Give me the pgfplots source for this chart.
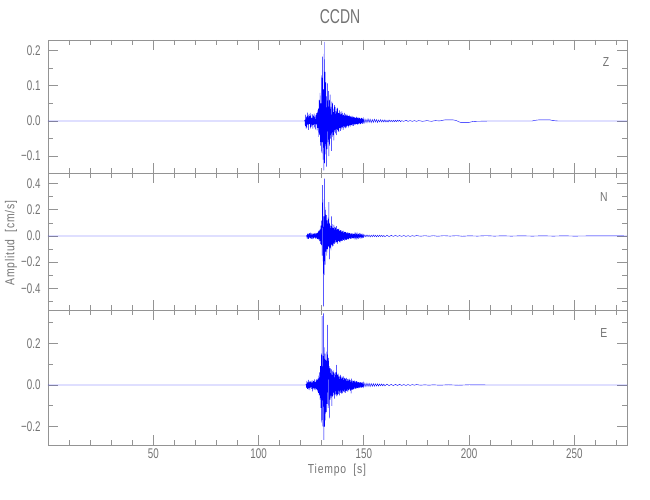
\documentclass[border=0pt]{standalone}
\usepackage{fontspec}
\setmainfont{Liberation Sans}[FakeStretch=0.7]
\newfontfamily\lbl{Liberation Sans}[FakeStretch=0.8,LetterSpace=6]
\usepackage{pgfplots}
\pgfplotsset{compat=1.18}
\definecolor{axgray}{gray}{0.58}
\definecolor{txgray}{gray}{0.45}
\pgfplotsset{
 seis/.style={scale only axis, width=579pt, xmin=0, xmax=275,
   anchor=south west,
   xtick={50,100,150,200,250}, minor xtick={10,20,...,270},
   major tick length=10pt, minor tick length=5pt,
   axis line style={axgray, line width=0.8pt},
   every tick/.style={axgray, line width=0.8pt},
   tick label style={txgray, font=\fontsize{14}{16}\selectfont},
   yticklabel style={xshift=-4pt},
   /pgf/number format/assume math mode=true,
 },
 trace/.style={blue, line width=0.4pt, mark=none},
}
\begin{document}
\begin{tikzpicture}
\path[use as bounding box] (0,0) rectangle (650pt,500pt);
% ---------------- Z ----------------
\begin{axis}[seis, at={(48pt,326.7pt)}, height=133.3pt,
  ymin=-0.149, ymax=0.2306, ytick={-0.1,0,0.1,0.2},
  yticklabels={−0.1,0.0,0.1,0.2}, minor ytick={-0.05,0.05,0.15},
  xticklabels={}]
\addplot[trace] coordinates {
(0,0) (121.8,0)
(122.0,0.002) (122.2,-0.015) (122.4,0.018) (122.6,-0.022) (122.8,0.012) (123.0,-0.019) (123.2,0.024) (123.4,-0.010) (123.6,0.016) (123.8,-0.025)
(124.0,0.020) (124.2,-0.008) (124.4,0.014) (124.6,-0.021) (124.8,0.023) (125.0,-0.017) (125.2,0.009) (125.4,-0.013) (125.6,0.019) (125.8,-0.022)
(126.0,0.015) (126.2,-0.011) (126.4,0.021) (126.6,-0.018) (126.8,0.012) (127.0,-0.024) (127.2,0.017) (127.4,-0.009) (127.6,0.022) (127.8,-0.027)
(128.0,0.030) (128.2,-0.020) (128.4,0.035) (128.6,-0.045) (128.8,0.060) (129.0,-0.040) (129.2,0.080) (129.4,-0.070) (129.6,0.050) (129.8,-0.090)
(130.0,0.130) (130.2,-0.060) (130.4,0.183) (130.6,-0.110) (130.8,0.090) (131.0,-0.141) (131.2,0.225) (131.4,-0.120) (131.6,0.140) (131.8,-0.095)
(132.0,0.110) (132.2,-0.130) (132.4,0.070) (132.6,-0.080) (132.8,0.107) (133.0,-0.060) (133.2,0.085) (133.4,-0.100) (133.6,0.060) (133.8,-0.070)
(134.0,0.075) (134.2,-0.050) (134.4,0.040) (134.6,-0.085) (134.8,0.055) (135.0,-0.045) (135.2,0.050) (135.4,-0.040) (135.6,0.035) (135.8,-0.055)
(136.0,0.045) (136.2,-0.030) (136.4,0.040) (136.6,-0.035) (136.8,0.028) (137.0,-0.040) (137.2,0.035) (137.4,-0.025) (137.6,0.038) (137.8,-0.030)
(138.0,0.022) (138.2,-0.032) (138.4,0.030) (138.6,-0.020) (138.8,0.026) (139.0,-0.028) (139.2,0.020) (139.4,-0.024) (139.6,0.027) (139.8,-0.018)
(140.0,0.022) (140.2,-0.025) (140.4,0.017) (140.6,-0.020) (140.8,0.023) (141.0,-0.016) (141.2,0.019) (141.4,-0.021) (141.6,0.015) (141.8,-0.018)
(142.0,0.020) (142.2,-0.013) (142.4,0.016) (142.6,-0.019) (142.8,0.014) (143.0,-0.015) (143.2,0.017) (143.4,-0.012) (143.6,0.013) (143.8,-0.016)
(144.0,0.012) (144.2,-0.011) (144.4,0.015) (144.6,-0.013) (144.8,0.010) (145.0,-0.014) (145.2,0.012) (145.4,-0.009) (145.6,0.011) (145.8,-0.012)
(146.0,0.009) (146.2,-0.010) (146.4,0.012) (146.6,-0.008) (146.8,0.010) (147.0,-0.011) (147.2,0.008) (147.4,-0.009) (147.6,0.010) (147.8,-0.007)
(148.0,0.009) (148.2,-0.010) (148.4,0.007) (148.6,-0.008) (148.8,0.009) (149.0,-0.006) (149.2,0.008) (149.4,-0.008) (149.6,0.006) (149.8,-0.007)
(150.0,0.007) (150.5,-0.006) (151,0.005) (151.5,-0.005) (152,0.006) (152.5,-0.004) (153,0.005) (153.5,-0.005) (154,0.004) (154.5,-0.004)
(155,0.005) (155.5,-0.003) (156,0.004) (156.5,-0.004) (157,0.003) (157.5,-0.003) (158,0.004) (158.5,-0.003) (159,0.003) (159.5,-0.003)
(160,0.003) (160.5,-0.003) (161,0.002) (161.5,-0.003) (162,0.003) (162.5,-0.002) (163,0.002) (163.5,-0.002) (164,0.002) (164.5,-0.002)
(165,0.002) (165.5,-0.002) (166,0.002) (166.5,-0.001) (167,0.002) (167.5,-0.002) (168,0.001) (169,-0.001) (170,0.002) (171,-0.001)
(172,0.001) (173,-0.001) (174,0.001) (175,-0.001) (176,0.001) (178,-0.001) (180,0.001) (182,-0.001) (184,0.001) (186,0)
(187.5,0.002) (188.5,0.003) (192.5,0.003) (194,0.001) (195,-0.002) (196,-0.004) (200,-0.004) (201.5,-0.002) (203,-0.001) (210,0)
(230,0) (231.5,0.002) (233,0.003) (238.5,0.003) (240,0.001) (242,0) (275,0)
};
\node[txgray, font=\lbl\fontsize{13}{15}\selectfont] at (rel axis cs:0.964,0.837) {Z};
\end{axis}
% ---------------- N ----------------
\begin{axis}[seis, at={(48pt,190pt)}, height=136.7pt,
  ymin=-0.567, ymax=0.480, ytick={-0.4,-0.2,0,0.2,0.4},
  yticklabels={−0.4,−0.2,0.0,0.2,0.4}, minor ytick={-0.5,-0.3,-0.1,0.1,0.3},
  xticklabels={}]
\addplot[trace] coordinates {
(0,0) (122.6,0)
(122.8,0.003) (123.0,-0.012) (123.2,0.018) (123.4,-0.020) (123.6,0.015) (123.8,-0.022)
(124.0,0.019) (124.2,-0.014) (124.4,0.021) (124.6,-0.017) (124.8,0.012) (125.0,-0.023) (125.2,0.020) (125.4,-0.011) (125.6,0.018) (125.8,-0.021)
(126.0,0.016) (126.2,-0.019) (126.4,0.022) (126.6,-0.013) (126.8,0.017) (127.0,-0.020) (127.2,0.024) (127.4,-0.016) (127.6,0.019) (127.8,-0.025)
(128.0,0.028) (128.2,-0.022) (128.4,0.035) (128.6,-0.030) (128.8,0.045) (129.0,-0.040) (129.2,0.055) (129.4,-0.060) (129.6,0.080) (129.8,-0.070)
(130.0,0.120) (130.2,-0.150) (130.4,0.390) (130.6,0.200) (130.8,-0.540) (131.0,0.150) (131.2,-0.300) (131.4,0.440) (131.6,-0.220) (131.8,0.200)
(132.0,-0.120) (132.2,0.160) (132.4,-0.150) (132.6,0.120) (132.8,-0.100) (133.0,0.140) (133.2,-0.080) (133.4,0.260) (133.6,-0.180) (133.8,0.100)
(134.0,-0.090) (134.2,0.080) (134.4,-0.110) (134.6,0.150) (134.8,-0.070) (135.0,0.090) (135.2,-0.080) (135.4,0.060) (135.6,-0.075) (135.8,0.085)
(136.0,-0.060) (136.2,0.070) (136.4,-0.050) (136.6,0.065) (136.8,-0.055) (137.0,0.075) (137.2,-0.045) (137.4,0.055) (137.6,-0.060) (137.8,0.050)
(138.0,-0.040) (138.2,0.058) (138.4,-0.048) (138.6,0.040) (138.8,-0.050) (139.0,0.045) (139.2,-0.035) (139.4,0.042) (139.6,-0.040) (139.8,0.035)
(140.0,-0.038) (140.2,0.040) (140.4,-0.030) (140.6,0.034) (140.8,-0.036) (141.0,0.030) (141.2,-0.028) (141.4,0.032) (141.6,-0.030) (141.8,0.026)
(142.0,-0.030) (142.2,0.028) (142.4,-0.022) (142.6,0.025) (142.8,-0.026) (143.0,0.022) (143.2,-0.020) (143.4,0.024) (143.6,-0.021) (143.8,0.018)
(144.0,-0.022) (144.2,0.020) (144.4,-0.017) (144.6,0.019) (144.8,-0.018) (145.0,0.016) (145.2,-0.018) (145.4,0.017) (145.6,-0.014) (145.8,0.016)
(146.0,-0.015) (146.2,0.013) (146.4,-0.015) (146.6,0.014) (146.8,-0.012) (147.0,0.014) (147.2,-0.013) (147.4,0.011) (147.6,-0.012) (147.8,0.013)
(148.0,-0.010) (148.2,0.012) (148.4,-0.011) (148.6,0.010) (148.8,-0.011) (149.0,0.009) (149.2,-0.010) (149.4,0.010) (149.6,-0.008) (149.8,0.009)
(150.0,-0.009) (150.5,0.008) (151,-0.007) (151.5,0.008) (152,-0.006) (152.5,0.007) (153,-0.007) (153.5,0.006) (154,-0.006) (154.5,0.007)
(155,-0.005) (155.5,0.006) (156,-0.006) (156.5,0.005) (157,-0.005) (157.5,0.006) (158,-0.004) (158.5,0.005) (159,-0.005) (159.5,0.004)
(160,-0.005) (161,0.004) (162,-0.004) (163,0.004) (164,-0.003) (165,0.004) (166,-0.003) (167,0.003) (168,-0.003) (169,0.003)
(170,-0.003) (171,0.002) (172,-0.003) (173,0.002) (174,-0.002) (175,0.003) (177,-0.002) (179,0.002) (181,-0.002) (183,0.002)
(185,-0.002) (188,0.002) (191,-0.001) (194,0.002) (197,-0.002) (200,0.001) (204,-0.001) (208,0.002) (212,-0.001) (216,0.001)
(220,-0.001) (225,0.001) (230,-0.001) (235,0.001) (240,-0.001) (245,0.001) (250,-0.001) (260,0.001) (275,0)
};
\node[txgray, font=\lbl\fontsize{13}{15}\selectfont] at (rel axis cs:0.960,0.83) {N};
\end{axis}
% ---------------- E ----------------
\begin{axis}[seis, at={(48pt,55pt)}, height=135pt,
  ymin=-0.288, ymax=0.360, ytick={-0.2,0,0.2},
  yticklabels={−0.2,0.0,0.2}, minor ytick={-0.1,0.1,0.3}]
\addplot[trace] coordinates {
(0,0) (122.4,0)
(122.6,0.003) (122.8,-0.014) (123.0,0.020) (123.2,-0.018) (123.4,0.012) (123.6,-0.022) (123.8,0.025)
(124.0,-0.015) (124.2,0.018) (124.4,-0.024) (124.6,0.016) (124.8,-0.012) (125.0,0.021) (125.2,-0.019) (125.4,0.014) (125.6,-0.030) (125.8,0.022)
(126.0,-0.016) (126.2,0.019) (126.4,-0.023) (126.6,0.027) (126.8,-0.018) (127.0,0.015) (127.2,-0.025) (127.4,0.028) (127.6,-0.020) (127.8,0.024)
(128.0,-0.032) (128.2,0.030) (128.4,-0.038) (128.6,0.045) (128.8,-0.050) (129.0,0.060) (129.2,-0.070) (129.4,0.090) (129.6,-0.110) (129.8,0.150)
(130.0,-0.180) (130.2,0.330) (130.4,-0.150) (130.6,-0.200) (130.8,0.344) (131.0,-0.264) (131.2,0.180) (131.4,-0.200) (131.6,0.150) (131.8,-0.170)
(132.0,0.120) (132.2,-0.130) (132.4,0.160) (132.6,-0.090) (132.8,0.288) (133.0,-0.110) (133.2,0.130) (133.4,0.070) (133.6,-0.160) (133.8,0.090)
(134.0,-0.070) (134.2,0.080) (134.4,-0.060) (134.6,0.075) (134.8,-0.100) (135.0,0.065) (135.2,-0.055) (135.4,0.070) (135.6,-0.050) (135.8,0.060)
(136.0,-0.065) (136.2,0.055) (136.4,-0.045) (136.6,0.060) (136.8,-0.050) (137.0,0.096) (137.2,-0.055) (137.4,0.050) (137.6,-0.048) (137.8,0.055)
(138.0,-0.042) (138.2,0.045) (138.4,-0.050) (138.6,0.040) (138.8,-0.038) (139.0,0.048) (139.2,-0.036) (139.4,0.040) (139.6,-0.042) (139.8,0.035)
(140.0,-0.038) (140.2,0.042) (140.4,-0.030) (140.6,0.036) (140.8,-0.035) (141.0,0.032) (141.2,-0.038) (141.4,0.030) (141.6,-0.028) (141.8,0.034)
(142.0,-0.030) (142.2,0.028) (142.4,-0.032) (142.6,0.026) (142.8,-0.025) (143.0,0.030) (143.2,-0.024) (143.4,0.025) (143.6,-0.027) (143.8,0.022)
(144.0,-0.040) (144.2,0.030) (144.4,-0.022) (144.6,0.021) (144.8,-0.023) (145.0,0.019) (145.2,-0.020) (145.4,0.022) (145.6,-0.017) (145.8,0.018)
(146.0,-0.019) (146.2,0.016) (146.4,-0.017) (146.6,0.018) (146.8,-0.014) (147.0,0.016) (147.2,-0.015) (147.4,0.014) (147.6,-0.015) (147.8,0.013)
(148.0,-0.013) (148.2,0.014) (148.4,-0.012) (148.6,0.012) (148.8,-0.013) (149.0,0.011) (149.2,-0.011) (149.4,0.012) (149.6,-0.010) (149.8,0.010)
(150.0,-0.010) (150.5,0.009) (151,-0.008) (151.5,0.009) (152,-0.007) (152.5,0.008) (153,-0.008) (153.5,0.007) (154,-0.006) (154.5,0.007)
(155,-0.006) (155.5,0.006) (156,-0.005) (156.5,0.006) (157,-0.005) (157.5,0.005) (158,-0.004) (158.5,0.005) (159,-0.004) (159.5,0.004)
(160,-0.004) (161,0.004) (162,-0.003) (163,0.003) (164,-0.003) (165,0.003) (166,-0.002) (167,0.003) (168,-0.002) (169,0.002)
(170,-0.002) (171,0.002) (172,-0.002) (173,0.002) (174,-0.001) (175,0.002) (177,-0.001) (179,0.001) (181,-0.001) (183,0.001)
(186,-0.001) (190,0.001) (195,-0.001) (200,0.001) (210,0) (275,0)
};
\node[txgray, font=\lbl\fontsize{13}{15}\selectfont] at (rel axis cs:0.960,0.83) {E};
\end{axis}
\node[txgray, font=\fontsize{20}{22}\selectfont] at (340pt,483pt) {CCDN};
\node[txgray, font=\lbl\fontsize{13}{15}\selectfont] at (337pt,30pt) {Tiempo\ \ [s]};
\node[txgray, font=\lbl\fontsize{13}{15}\selectfont, rotate=90] at (11pt,257pt) {Amplitud\ \ [cm/s]};
\end{tikzpicture}
\end{document}
